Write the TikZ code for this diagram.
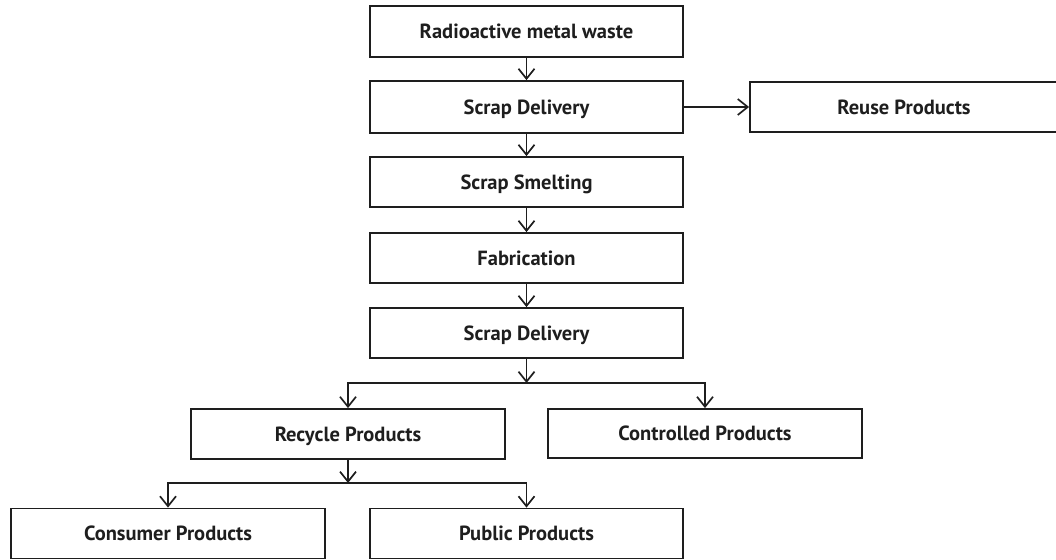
\documentclass[tikz,border=0pt]{standalone}
\usepackage{fontspec}
\setmainfont{PT Sans}
\usetikzlibrary{arrows.meta}
\definecolor{ink}{HTML}{1E1E1E}
\tikzset{
  box/.style={draw=ink, line width=1.8pt, minimum width=313pt, minimum height=50pt,
    inner sep=0pt, text depth=0pt, font=\fontsize{20.5}{24}\selectfont\bfseries, text=ink},
  arr/.style={draw=ink, line width=1.8pt, -{Straight Barb[length=10pt,width=16pt,line width=1.7pt]}},
  line/.style={draw=ink, line width=1.8pt}
}
\begin{document}
\begin{tikzpicture}[x=1pt,y=-1pt]
\useasboundingbox (0,0) rectangle (1056,559);
\clip (0,0) rectangle (1056,559);
\node[box, minimum height=51pt] (b1) at (526.5,31.5) {Radioactive metal waste};
\node[box, minimum height=52pt] (b2) at (526.5,107) {Scrap Delivery};
\node[box] (b3) at (526.5,182) {Scrap Smelting};
\node[box] (b4) at (526.5,258) {Fabrication};
\node[box] (b5) at (526.5,333) {Scrap Delivery};
\node[box, minimum width=308pt] (reuse) at (904,107) {Reuse Products};
\node[box, minimum width=314pt] (recycle) at (348,434) {Recycle Products};
\node[box, minimum width=314pt, minimum height=49pt] (controlled) at (705,433.5) {Controlled Products};
\node[box, minimum width=314pt] (consumer) at (168,533.5) {Consumer Products};
\node[box] (public) at (526.5,533.5) {Public Products};
\coordinate (j1) at (526.5,383);
\coordinate (j2) at (348,483);
\draw[arr] (b1) -- (b2);
\draw[arr] (b2) -- (b3);
\draw[arr] (b3) -- (b4);
\draw[arr] (b4) -- (b5);
\draw[arr] (b2) -- (reuse);
\draw[arr] (b5) -- (j1);
\draw[arr] (j1) -| (recycle);
\draw[arr] (j1) -| (controlled);
\draw[arr] (recycle) -- (j2);
\draw[arr] (j2) -| (consumer);
\draw[arr] (j2) -| (public);
\end{tikzpicture}
\end{document}
